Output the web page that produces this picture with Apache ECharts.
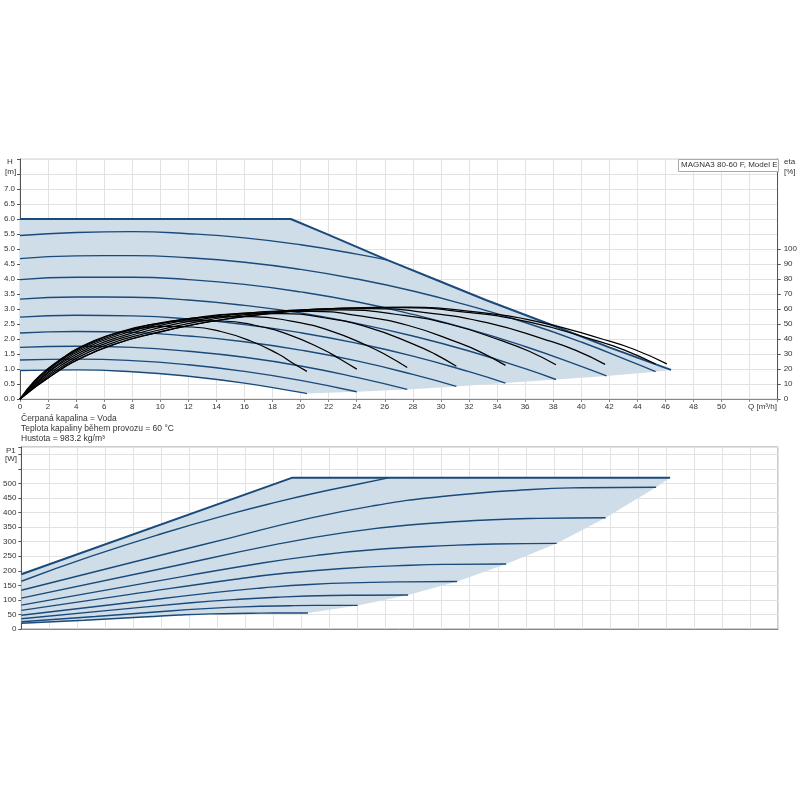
<!DOCTYPE html>
<html><head><meta charset="utf-8">
<script src="https://cdn.jsdelivr.net/npm/echarts@6/dist/echarts.min.js"></script>
<style>html,body{margin:0;padding:0;background:#fff}#c{width:800px;height:800px}</style>
</head><body><div id="c"></div>
<script>
// ---- Q-H curves [Q m3/h, H m] ----
const hMax = [[0,6],[19.3,6],[21.75,5.52],[26.2,4.63],[30,3.91],[33.2,3.3],[38,2.45],[42,1.72],[46.4,0.97]];
const h2  = [[0,5.45],[4,5.55],[8,5.58],[12,5.51],[16,5.37],[20,5.14],[24,4.83],[26.2,4.63]];
const h3  = [[0,4.68],[4,4.77],[8,4.78],[12,4.71],[16,4.56],[20,4.32],[24,4.0],[28,3.6],[32,3.11],[36,2.55],[40,1.9],[44,1.16],[45.3,0.91]];
const h4  = [[0,3.98],[4,4.06],[8,4.06],[12,3.98],[16,3.82],[20,3.57],[24,3.24],[28,2.82],[32,2.33],[36,1.75],[40,1.09],[41.8,0.77]];
const h5  = [[0,3.33],[4,3.4],[8,3.39],[12,3.3],[16,3.12],[20,2.87],[24,2.52],[28,2.1],[32,1.6],[36,1.01],[38.2,0.65]];
const h6  = [[0,2.73],[4,2.79],[8,2.77],[12,2.67],[16,2.48],[20,2.21],[24,1.86],[28,1.43],[32,0.91],[34.6,0.53]];
const h7  = [[0,2.2],[4,2.25],[8,2.22],[12,2.1],[16,1.91],[20,1.63],[24,1.27],[28,0.82],[31.1,0.42]];
const h8  = [[0,1.72],[4,1.76],[8,1.72],[12,1.59],[16,1.39],[20,1.1],[24,0.72],[27.6,0.32]];
const h9  = [[0,1.3],[4,1.33],[8,1.28],[12,1.14],[16,0.92],[20,0.62],[24,0.24]];
const h10 = [[0,0.95],[4,0.97],[8,0.91],[12,0.76],[16,0.53],[20,0.22],[20.45,0.18]];
const hEnds = [[46.4,0.97],[45.3,0.91],[41.8,0.77],[38.2,0.65],[34.6,0.53],[31.1,0.42],[27.6,0.32],[24,0.24],[20.45,0.18]];

// ---- efficiency curves [Q m3/h, eta %] ----
const etaA = [[0,0],[1.02,12],[2.05,20.6],[3.07,27.6],[4.09,33.6],[6.14,42],[8.18,46.6],[10.23,48.4],[12.27,48],[14.32,45],[16.36,39],[18.41,30],[19.43,24],[20.45,18.4]];
const etaB = [[0,0],[1.2,13.2],[2.4,22.9],[3.6,30.4],[4.8,36.4],[7.2,45],[9.6,49.9],[12,52.1],[14.4,52],[16.8,49],[19.2,42.8],[21.6,33],[22.8,26.7],[24,19.9]];
const etaC = [[0,0],[1.38,14.1],[2.76,24.7],[4.14,32.5],[5.52,38.5],[8.28,47.2],[11.04,52.3],[13.8,54.7],[16.56,54.9],[19.32,51.9],[22.08,45.6],[24.84,35.2],[26.22,28.7],[27.6,21]];
const etaD = [[0,0],[1.56,14.7],[3.11,25.9],[4.67,34],[6.22,40],[9.33,48.8],[12.44,54.1],[15.55,56.7],[18.66,57],[21.77,54],[24.88,47.6],[27.99,36.8],[29.55,30.1],[31.1,21.8]];
const etaE = [[0,0],[1.73,15.2],[3.46,26.8],[5.19,35],[6.92,41],[10.38,49.9],[13.84,55.3],[17.3,58],[20.76,58.4],[24.22,55.4],[27.68,49],[31.14,37.9],[32.87,31.1],[34.6,22.4]];
const etaF = [[0,0],[1.91,15.5],[3.82,27.4],[5.73,35.8],[7.64,41.8],[11.46,50.7],[15.28,56.2],[19.1,59],[22.92,59.5],[26.74,56.5],[30.56,50],[34.38,38.7],[36.29,31.8],[38.2,22.8]];
const etaG = [[0,0],[2.09,15.7],[4.17,27.9],[6.26,36.3],[8.34,42.3],[12.51,51.3],[16.68,56.8],[20.85,59.8],[25.02,60.3],[29.19,57.3],[33.36,50.7],[37.53,39.3],[39.62,32.4],[41.7,23.1]];
const etaH = [[0,0],[2.27,15.9],[4.53,28.2],[6.8,36.8],[9.06,42.8],[13.59,51.8],[18.12,57.4],[22.65,60.4],[27.18,60.9],[31.71,57.9],[36.24,51.4],[40.77,39.8],[43.04,32.8],[45.3,23.3]];
const etaI = [[0,0],[2.31,16],[4.61,28.4],[6.92,37],[9.22,43],[13.83,52],[18.44,57.6],[23.05,60.6],[27.66,61.2],[32.27,58.2],[36.88,51.6],[41.49,40],[43.8,33],[46.1,23.4]];

// ---- P1 curves [Q m3/h, P1 W] ----
const pMax = [[0,188],[19.3,519],[46.3,519]];
const p2  = [[0,164],[5,250],[10,327],[15,396],[18.5,439],[21,467],[24,497],[26.2,519]];
const p3  = [[0,133],[10,254],[15,314],[20,374],[25,422],[30,455],[36.4,479],[40,485],[45.3,487]];
const p4  = [[0,106],[9.22,199],[18.44,293],[23.05,331],[27.66,357],[33.6,375],[36.9,380],[41.7,382]];
const p5  = [[0,82],[8.44,154],[16.87,224],[21.09,253],[25.3,273],[30.7,287],[33.74,292],[38.2,294]];
const p6  = [[0,64],[7.64,118],[15.28,171],[19.1,193],[22.92,208],[27.8,219],[30.56,222],[34.6,223]];
const p7  = [[0,47],[6.86,86],[13.71,125],[17.14,141],[20.57,153],[24.96,160],[27.42,162],[31.1,163]];
const p8  = [[0,35],[6.06,63],[12.12,90],[15.16,101],[18.19,109],[22.07,115],[24.25,116],[27.6,117]];
const p9  = [[0,25],[5.27,43],[10.54,62],[13.18,70],[15.81,76],[19.18,80],[21.08,81],[24,81]];
const p10 = [[0,20],[4.5,30],[9.01,42],[11.26,48],[13.52,52],[16.4,54],[18.02,55],[20.45,55]];
const pEnds = [[46.3,519],[45.3,487],[41.7,382],[38.2,294],[34.6,223],[31.1,163],[27.6,117],[24,81],[20.45,55]];

const BLUE = '#1a4a7a', FILL = '#cfdde9', GRIDC = '#e2e2e2', TXT = '#333', FONT = 'Liberation Sans, Arial, sans-serif';

const topArea = hMax.concat(hEnds.slice(1), h10.slice(0, -1).reverse());
const botArea = pMax.concat(pEnds.slice(1), p10.slice(0, -1).reverse());

function poly(points, xi, yi) {
  return { type: 'custom', xAxisIndex: xi, yAxisIndex: yi, data: points, silent: true, z: 1, clip: true,
    encode: { x: 0, y: 1 },
    renderItem: function (params, api) {
      if (params.dataIndex !== 0) return null;
      return { type: 'polygon', shape: { points: points.map(p => api.coord(p)) }, style: { fill: FILL } };
    } };
}
function line(data, xi, yi, color, width, smooth) {
  return { type: 'line', xAxisIndex: xi, yAxisIndex: yi, data: data, showSymbol: false, symbol: 'none',
    smooth: smooth, silent: true, z: color === '#000' ? 4 : 3, lineStyle: { color: color, width: width } };
}

const series = [poly(topArea, 0, 0), poly(botArea, 1, 2)];
[h2, h3, h4, h5, h6, h7, h8, h9, h10].forEach(d => series.push(line(d, 0, 0, BLUE, 1.4, true)));
series.push(line(hMax, 0, 0, BLUE, 2, false));
[etaA, etaB, etaC, etaD, etaE, etaF, etaG, etaH, etaI].forEach(d => series.push(line(d, 0, 1, '#000', 1.25, true)));
[p2, p3, p4, p5, p6, p7, p8, p9, p10].forEach(d => series.push(line(d, 1, 2, BLUE, 1.4, true)));
series.push(line(pMax, 1, 2, BLUE, 2, false));

const lbl = { fontSize: 8, color: TXT, fontFamily: FONT };
function xAx(gi, showLabels) {
  return { gridIndex: gi, type: 'value', min: 0, max: 54, interval: 2,
    axisLine: { show: true, lineStyle: { color: '#888' } },
    axisTick: { show: showLabels, length: 3, lineStyle: { color: '#888' } },
    axisLabel: Object.assign({ show: showLabels, margin: 4, formatter: v => (v <= 50 ? String(v) : '') }, lbl),
    splitLine: { show: true, lineStyle: { color: GRIDC } } };
}

const option = {
  animation: false,
  backgroundColor: '#fff',
  grid: [
    { left: 20, right: 22, top: 159, height: 240, show: true, borderColor: '#d0d0d0', borderWidth: 1, backgroundColor: 'transparent' },
    { left: 20, right: 22, top: 447, height: 182, show: true, borderColor: '#9a9a9a', borderWidth: 1, backgroundColor: 'transparent' }
  ],
  xAxis: [xAx(0, true), xAx(1, false)],
  yAxis: [
    { gridIndex: 0, type: 'value', min: 0, max: 8, interval: 0.5, position: 'left',
      axisLine: { show: true, lineStyle: { color: '#555' } },
      axisTick: { show: true, length: 3, lineStyle: { color: '#555' } },
      axisLabel: Object.assign({ margin: 5, formatter: v => (v <= 7 ? v.toFixed(1) : '') }, lbl),
      splitLine: { show: true, lineStyle: { color: GRIDC } } },
    { gridIndex: 0, type: 'value', min: 0, max: 160, interval: 10, position: 'right',
      axisLine: { show: true, lineStyle: { color: '#555' } },
      axisTick: { show: true, length: 3, lineStyle: { color: '#555' }, customValues: [0,10,20,30,40,50,60,70,80,90,100] },
      axisLabel: Object.assign({ margin: 6, customValues: [0,10,20,30,40,50,60,70,80,90,100], formatter: v => (v <= 100 ? String(v) : '') }, lbl),
      splitLine: { show: false } },
    { gridIndex: 1, type: 'value', min: 0, max: 625, interval: 50, position: 'left',
      axisLine: { show: true, lineStyle: { color: '#555' } },
      axisTick: { show: true, length: 3, lineStyle: { color: '#555' } },
      axisLabel: Object.assign({ margin: 5, formatter: v => (v <= 500 && v % 50 === 0 ? String(v) : '') }, lbl),
      splitLine: { show: true, lineStyle: { color: GRIDC } } }
  ],
  graphic: [
    { type: 'text', left: 7, top: 158, style: { text: 'H', font: '8px ' + FONT, fill: TXT } },
    { type: 'text', left: 5, top: 168, style: { text: '[m]', font: '8px ' + FONT, fill: TXT } },
    { type: 'text', left: 784, top: 158, style: { text: 'eta', font: '8px ' + FONT, fill: TXT } },
    { type: 'text', left: 784, top: 168, style: { text: '[%]', font: '8px ' + FONT, fill: TXT } },
    { type: 'text', left: 748, top: 403, style: { text: 'Q [m³/h]', font: '8px ' + FONT, fill: TXT } },
    { type: 'rect', shape: { x: 678.5, y: 159.5, width: 100, height: 12 }, style: { fill: '#fff', stroke: '#aaa', lineWidth: 1 }, z: 10 },
    { type: 'text', x: 681, y: 161, style: { text: 'MAGNA3 80-60 F, Model E', font: '8px ' + FONT, fill: TXT }, z: 11 },
    { type: 'text', left: 21, top: 414, style: { text: 'Čerpaná kapalina = Voda', font: '8.5px ' + FONT, fill: TXT } },
    { type: 'text', left: 21, top: 424, style: { text: 'Teplota kapaliny během provozu = 60 °C', font: '8.5px ' + FONT, fill: TXT } },
    { type: 'text', left: 21, top: 434, style: { text: 'Hustota = 983.2 kg/m³', font: '8.5px ' + FONT, fill: TXT } },
    { type: 'text', left: 6, top: 447, style: { text: 'P1', font: '8px ' + FONT, fill: TXT } },
    { type: 'text', left: 5, top: 455, style: { text: '[W]', font: '8px ' + FONT, fill: TXT } }
  ],
  series: series
};
const chart = echarts.init(document.getElementById('c'), null, { renderer: 'canvas' });
chart.setOption(option);
</script></body></html>
